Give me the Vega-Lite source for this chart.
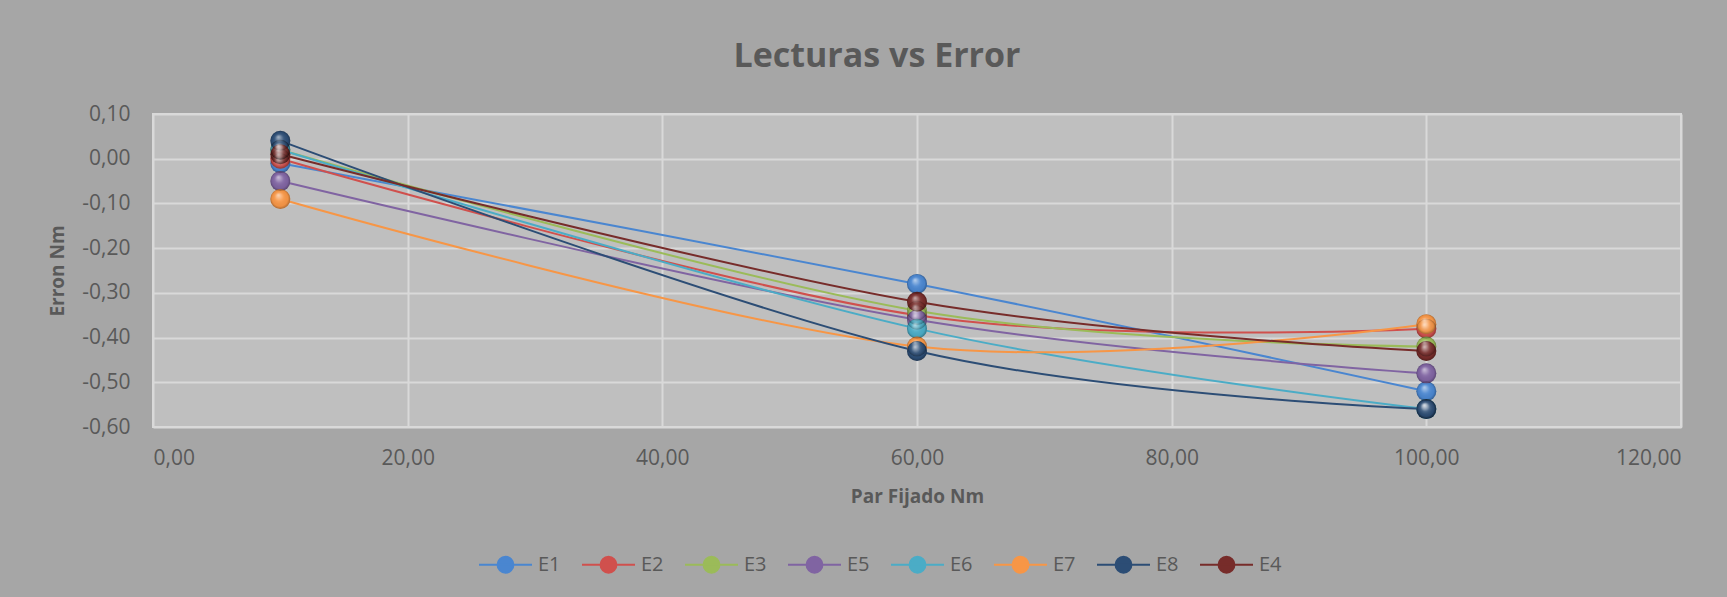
{
  "$schema": "https://vega.github.io/schema/vega-lite/v6.json",
  "width": 1528,
  "height": 313,
  "autosize": "none",
  "padding": {"left": 153, "top": 114, "right": 46, "bottom": 170},
  "background": "#a6a6a6",
  "config": {
    "view": {"fill": "#bfbfbf", "stroke": "#d9d9d9", "strokeWidth": 2},
    "font": "Open Sans"
  },
  "title": {
    "text": "Lecturas vs Error",
    "font": "Open Sans",
    "fontSize": 34,
    "fontWeight": "bold",
    "color": "#595959",
    "anchor": "middle",
    "baseline": "alphabetic",
    "offset": 2,
    "dx": -40
  },
  "data": {
    "values": [
      {"serie": "E1", "par": 10, "error": -0.01},
      {"serie": "E1", "par": 60, "error": -0.28},
      {"serie": "E1", "par": 100, "error": -0.52},
      {"serie": "E2", "par": 10, "error": 0.0},
      {"serie": "E2", "par": 60, "error": -0.35},
      {"serie": "E2", "par": 100, "error": -0.38},
      {"serie": "E3", "par": 10, "error": 0.02},
      {"serie": "E3", "par": 60, "error": -0.34},
      {"serie": "E3", "par": 100, "error": -0.42},
      {"serie": "E5", "par": 10, "error": -0.05},
      {"serie": "E5", "par": 60, "error": -0.36},
      {"serie": "E5", "par": 100, "error": -0.48},
      {"serie": "E6", "par": 10, "error": 0.02},
      {"serie": "E6", "par": 60, "error": -0.38},
      {"serie": "E6", "par": 100, "error": -0.56},
      {"serie": "E7", "par": 10, "error": -0.09},
      {"serie": "E7", "par": 60, "error": -0.42},
      {"serie": "E7", "par": 100, "error": -0.37},
      {"serie": "E8", "par": 10, "error": 0.04},
      {"serie": "E8", "par": 60, "error": -0.43},
      {"serie": "E8", "par": 100, "error": -0.56},
      {"serie": "E4", "par": 10, "error": 0.01},
      {"serie": "E4", "par": 60, "error": -0.32},
      {"serie": "E4", "par": 100, "error": -0.43}
    ]
  },
  "encoding": {
    "x": {
      "field": "par",
      "type": "quantitative",
      "scale": {"domain": [0, 120], "nice": false},
      "axis": {
        "title": "Par Fijado Nm",
        "values": [0, 20, 40, 60, 80, 100, 120],
        "labelExpr": "replace(replace(format(datum.value, '.2f'), '.', ','), '\u2212', '-')",
        "labelFont": "Open Sans",
        "labelFontSize": 21,
        "labelColor": "#595959",
        "labelPadding": 20,
        "ticks": false,
        "tickSize": 0,
        "domain": false,
        "grid": true,
        "gridColor": "#d9d9d9",
        "gridWidth": 2,
        "titleFont": "Open Sans",
        "titleFontSize": 19,
        "titleFontWeight": "bold",
        "titleColor": "#595959",
        "titlePadding": 19
      }
    },
    "y": {
      "field": "error",
      "type": "quantitative",
      "scale": {"domain": [-0.6, 0.1], "nice": false, "zero": false},
      "axis": {
        "title": "Erron Nm",
        "values": [-0.6, -0.5, -0.4, -0.3, -0.2, -0.1, 0, 0.1],
        "labelExpr": "replace(replace(format(datum.value, '.2f'), '.', ','), '\u2212', '-')",
        "labelFont": "Open Sans",
        "labelFontSize": 21,
        "labelColor": "#595959",
        "labelPadding": 23,
        "ticks": false,
        "tickSize": 0,
        "domain": false,
        "grid": true,
        "gridColor": "#d9d9d9",
        "gridWidth": 2,
        "titleFont": "Open Sans",
        "titleFontSize": 19,
        "titleFontWeight": "bold",
        "titleColor": "#595959",
        "titlePadding": 14
      }
    }
  },
  "layer": [
    {
      "mark": {"type": "line", "interpolate": "cardinal", "strokeWidth": 2},
      "encoding": {
        "color": {
          "field": "serie",
          "type": "nominal",
          "sort": null,
          "scale": {
            "domain": ["E1", "E2", "E3", "E5", "E6", "E7", "E8", "E4"],
            "range": ["#4a86d0", "#d0504d", "#9bbb59", "#8064a2", "#4bacc6", "#f79646", "#2c4d75", "#772c2a"]
          },
          "legend": {
            "orient": "none",
            "legendX": 325,
            "legendY": 423,
            "direction": "horizontal",
            "title": null,
            "symbolType": "M-1,0H1M0.3,0A0.3,0.3 0 1 1 -0.3,0A0.3,0.3 0 1 1 0.3,0Z",
            "symbolSize": 2809,
            "symbolStrokeWidth": 2,
            "labelFont": "Open Sans",
            "labelFontSize": 20,
            "labelColor": "#595959",
            "labelOffset": 5,
            "columnPadding": 17,
            "padding": 0,
            "encode": {
              "symbols": {
                "update": {
                  "fill": {"scale": "color", "field": "value"},
                  "stroke": {"scale": "color", "field": "value"},
                  "opacity": {"value": 1}
                }
              }
            }
          }
        }
      }
    },
    {
      "mark": {"type": "point", "filled": true, "size": 400, "opacity": 1},
      "encoding": {
        "color": {"field": "serie", "type": "nominal", "sort": null}
      }
    },
    {
      "mark": {
        "type": "point",
        "filled": true,
        "size": 400,
        "opacity": 1,
        "fill": {
          "gradient": "radial",
          "x1": 0.4, "y1": 0.3, "r1": 0,
          "x2": 0.5, "y2": 0.5, "r2": 0.5,
          "stops": [
            {"offset": 0, "color": "rgba(255,255,255,0.6)"},
            {"offset": 0.45, "color": "rgba(255,255,255,0.08)"},
            {"offset": 0.8, "color": "rgba(0,0,0,0.03)"},
            {"offset": 1, "color": "rgba(0,0,0,0.3)"}
          ]
        }
      }
    }
  ]
}
